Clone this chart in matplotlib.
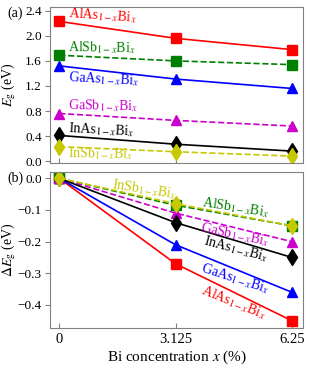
import numpy as np
import matplotlib
matplotlib.use('Agg')
import matplotlib.pyplot as plt

plt.rcParams['font.family'] = ['Liberation Serif', 'DejaVu Serif']
plt.rcParams['mathtext.fontset'] = 'stix'

# Data
x_bi = [0, 3.125, 6.25]
xtick_labels = ['0', '3.125', '6.25']

eg_alas = [2.23, 1.96, 1.78]
eg_alsb = [1.69, 1.60, 1.54]
eg_gaas = [1.52, 1.31, 1.16]
eg_gasb = [0.76, 0.65, 0.56]
eg_inas = [0.41, 0.27, 0.16]
eg_insb = [0.23, 0.15, 0.08]

de_alas = [0, -0.27, -0.45]
de_alsb = [0, -0.085, -0.15]
de_gaas = [0, -0.21, -0.36]
de_gasb = [0, -0.11, -0.20]
de_inas = [0, -0.14, -0.25]
de_insb = [0, -0.08, -0.15]

names = ['AlAs', 'AlSb', 'GaAs', 'GaSb', 'InAs', 'InSb']
colors = ['#ff0000', '#008000', '#0000ff', '#cc00cc', '#000000', '#c8c800']
styles = ['-', '--', '-', '--', '-', '--']
markers = ['s', 's', '^', '^', 'd', 'd']
msizes = [6.5, 6.5, 7, 7, 8, 8]

eg_all = [eg_alas, eg_alsb, eg_gaas, eg_gasb, eg_inas, eg_insb]
de_all = [de_alas, de_alsb, de_gaas, de_gasb, de_inas, de_insb]

def label(n):
    return n + r'$_{1-x}$Bi$_x$'

fig = plt.figure(figsize=(3.17, 3.73), dpi=100)
ax1 = fig.add_axes([50/317, 1 - 163/373, 253/317, 156/373])
ax2 = fig.add_axes([50/317, 1 - 328/373, 253/317, 156/373])

for i in range(6):
    ax1.plot(x_bi, eg_all[i], color=colors[i], ls=styles[i], marker=markers[i],
             ms=msizes[i], lw=1.2)
    ax2.plot(x_bi, de_all[i], color=colors[i], ls=styles[i], marker=markers[i],
             ms=msizes[i], lw=1.2)

# top panel labels (x, y of left-centre, rotation)
top_pos = [(0.24, 2.36, -4), (0.24, 1.82, -1), (0.24, 1.34, -3),
           (0.24, 0.90, -1), (0.24, 0.53, -3), (0.24, 0.13, -1)]
for i, (tx, ty, rot) in enumerate(top_pos):
    ax1.text(tx, ty, label(names[i]), color=colors[i], fontsize=10,
             va='center', ha='left', rotation=rot, rotation_mode='anchor')

# bottom panel labels
bot_pos = {'InSb': (1.42, -0.019, -9), 'AlSb': (3.83, -0.077, -9),
           'GaSb': (3.80, -0.156, -12), 'InAs': (3.90, -0.196, -15),
           'GaAs': (3.83, -0.282, -18), 'AlAs': (3.83, -0.352, -22)}
for i, n in enumerate(names):
    tx, ty, rot = bot_pos[n]
    ax2.text(tx, ty, label(n), color=colors[i], fontsize=10,
             va='center', ha='left', rotation=rot, rotation_mode='anchor')

for ax in (ax1, ax2):
    ax.set_xlim(-0.25, 6.55)
    ax.set_xticks(x_bi)
    for s in ax.spines.values():
        s.set_color('#808080')
    ax.tick_params(axis='y', direction='out', color='#808080', labelsize=9.5, pad=2.5)
    ax.tick_params(axis='x', direction='in', color='#808080', labelsize=10.5)

ax1.set_ylim(-0.03, 2.46)
ax1.set_yticks([0.0, 0.4, 0.8, 1.2, 1.6, 2.0, 2.4])
ax1.set_yticklabels(['0.0', '0.4', '0.8', '1.2', '1.6', '2.0', '2.4'])
ax1.set_xticklabels([])
ax1.set_ylabel(r'$E_{\rm g}$ (eV)', fontsize=10)

ax2.set_ylim(-0.473, 0.02)
ax2.set_yticks([0.0, -0.1, -0.2, -0.3, -0.4])
ax2.set_yticklabels(['0.0', '\u22120.1', '\u22120.2', '\u22120.3', '\u22120.4'])
ax2.set_xticklabels(xtick_labels)
ax2.set_ylabel(r'$\Delta E_{\rm g}$ (eV)', fontsize=10)
ax2.set_xlabel(r'Bi concentration $x$ (%)', fontsize=11, labelpad=2)

for ax in (ax1, ax2):
    ax.yaxis.set_label_coords(-0.125, 0.5)

fig.text(7/317, 1 - 13/373, '(a)', fontsize=10, va='center')
fig.text(7/317, 1 - 178/373, '(b)', fontsize=10, va='center')

fig.savefig('out.png', dpi=100)
